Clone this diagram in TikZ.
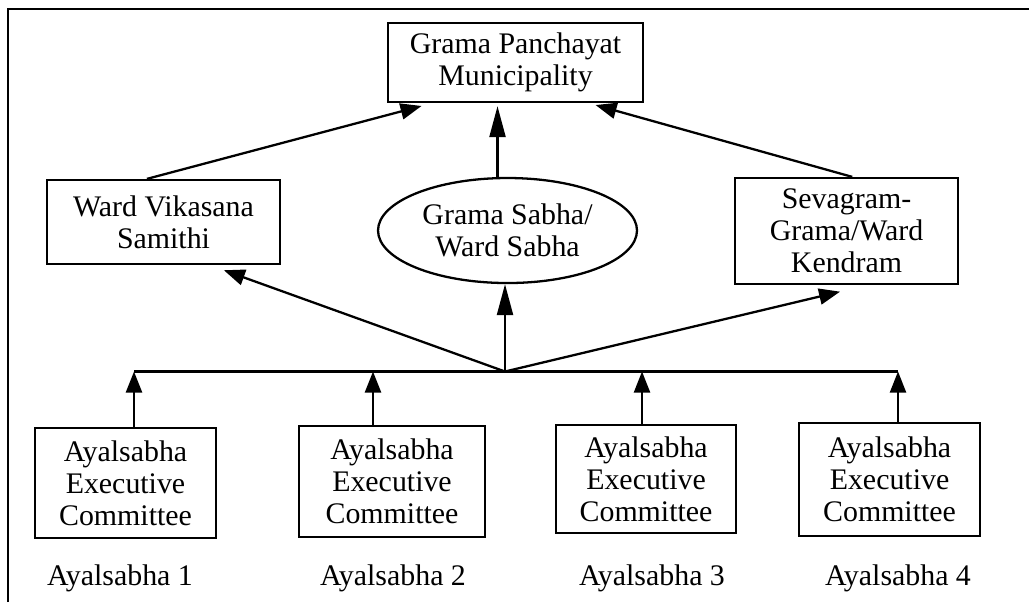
\documentclass[tikz,border=0pt]{standalone}
\usepackage{fontspec}
\setmainfont{Liberation Serif}
\usepackage{tikz}
\usetikzlibrary{math}
\usetikzlibrary{arrows.meta}
\usetikzlibrary{shapes.geometric}

\tikzset{
  box/.style={draw, line width=0.65pt, align=center, inner sep=0pt,
    font=\fontsize{8.5}{9.1}\selectfont},
  lbl/.style={inner sep=0pt, anchor=base, font=\fontsize{8.5}{9.1}\selectfont},
  arr/.style={line width=0.65pt, -{Triangle[length=0.21cm,width=0.16cm]}},
  arrlong/.style={line width=0.65pt, -{Triangle[length=0.31cm,width=0.16cm]}},
}

\begin{document}
\begin{tikzpicture}

\useasboundingbox (0,0) rectangle (10.29,-6.02);

% Ramecek
\draw[line width=0.65pt] (0.08,-6.02) -- (0.08,-0.09) -- (10.29,-0.09);

% Horni uroven
\node[box, minimum width=2.55cm, minimum height=0.79cm] (top) at (5.155,-0.625) {Grama Panchayat\\Municipality};

% Stredni uroven
\node[box, minimum width=2.33cm, minimum height=0.84cm] (ward) at (1.635,-2.22) {Ward Vikasana\\Samithi};
\node[box, ellipse, minimum width=2.59cm, minimum height=1.05cm] (sabha) at (5.075,-2.305) {Grama Sabha/\\Ward Sabha};
\node[box, minimum width=2.23cm, minimum height=1.06cm] (seva) at (8.465,-2.31) {Sevagram-\\Grama/Ward\\Kendram};

\coordinate (sabhatop) at ([xshift=-0.1cm]sabha.north);

\draw[arr, shorten >=0.11cm] (ward.111) -- (top.-154);
\draw[arrlong, shorten >=0.03cm] (sabhatop) -- (sabhatop |- top.south);
\draw[arr, shorten >=0.07cm] (seva.84) -- (top.-29);

% Sbernice
\tikzmath{ \bus = -3.715; }
\coordinate (hub) at (5.05, \bus);

\draw[arr, shorten >=0.15cm] (hub) -- (ward.-43);
\draw[arrlong] (hub) -- (hub |- sabha.south);
\draw[arr, shorten >=0.28cm] (hub) -- (seva.-69);

% Ayalsabha 1
\tikzmath{ \x = 1.255; \b = 1.34; }
\node[box, minimum width=1.81cm, minimum height=1.10cm] (exec1) at (\x, -4.83) {Ayalsabha\\Executive\\Committee};
\node[lbl] (name1) at (1.2, -5.85) {Ayalsabha 1};
\coordinate (bus1) at (\b, \bus);
\draw[arr] (bus1 |- exec1.north) -- (bus1);

% Ayalsabha 2
\tikzmath{ \x = 3.92; \b = 3.73; }
\node[box, minimum width=1.86cm, minimum height=1.11cm] (exec2) at (\x, -4.815) {Ayalsabha\\Executive\\Committee};
\node[lbl] (name2) at (3.93, -5.85) {Ayalsabha 2};
\coordinate (bus2) at (\b, \bus);
\draw[arr] (bus2 |- exec2.north) -- (bus2);

% Ayalsabha 3
\tikzmath{ \x = 6.46; \b = 6.42; }
\node[box, minimum width=1.80cm, minimum height=1.08cm] (exec3) at (\x, -4.79) {Ayalsabha\\Executive\\Committee};
\node[lbl] (name3) at (6.52, -5.85) {Ayalsabha 3};
\coordinate (bus3) at (\b, \bus);
\draw[arr] (bus3 |- exec3.north) -- (bus3);

% Ayalsabha 4
\tikzmath{ \x = 8.895; \b = 8.98; }
\node[box, minimum width=1.81cm, minimum height=1.13cm] (exec4) at (\x, -4.795) {Ayalsabha\\Executive\\Committee};
\node[lbl] (name4) at (8.98, -5.85) {Ayalsabha 4};
\coordinate (bus4) at (\b, \bus);
\draw[arr] (bus4 |- exec4.north) -- (bus4);

\draw[line width=0.65pt] (bus1) -- (bus4);

\end{tikzpicture}
\end{document}
